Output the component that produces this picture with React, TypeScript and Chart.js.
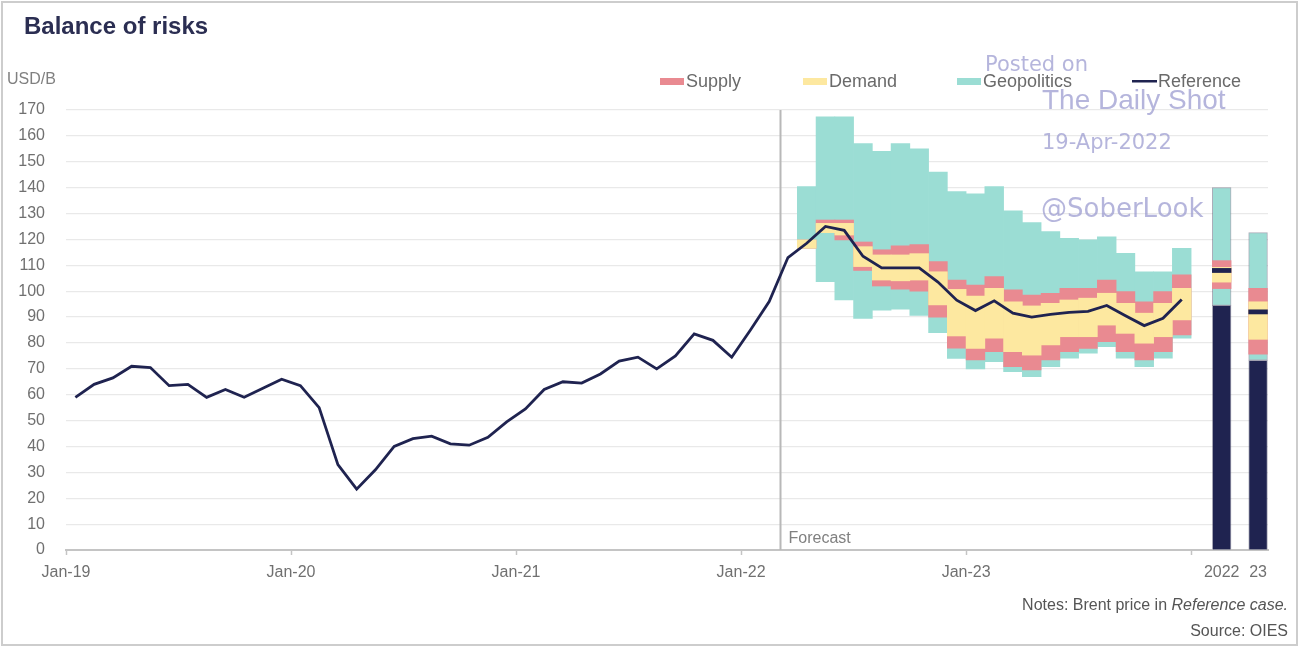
import React, { useEffect, useRef } from 'react';
import { Chart, registerables } from 'chart.js';

Chart.register(...registerables);

// ---------- DATA ----------
// Monthly Brent reference price, Jan-19 .. Dec-23 (USD/B)
const referencePrice: number[] = [
  59, 64, 66.5, 71, 70.5, 63.5, 64, 59, 62, 59, 62.5, 66,
  63.5, 55, 33, 23.5, 31, 40, 43, 44, 41, 40.5, 43.5, 49.5,
  54.5, 62, 65, 64.5, 68, 73, 74.5, 70, 75, 83.5, 81, 74.5,
  85, 96, 113, 118.5, 125, 123.5, 113.5, 109, 109, 109, 103.5, 96.5,
  92.5, 96.3, 91.5, 90, 91, 91.8, 92.2, 94.5, 90.5, 86.7, 89.5, 96.8,
];
// Forecast bands, Apr-22 .. Dec-23 (month index 39 .. 59)
const forecastStartIndex = 39;
const geoLow: number[] = [116.6, 103.7, 96.6, 89.5, 92.7, 93, 90.6, 84, 74, 70, 72.8, 68.9, 67, 70.8, 74.1, 76, 78.6, 74.1, 70.8, 74.1, 81.8];
const supplyLow: number[] = [116.6, 122.6, 119.8, 108, 102, 100.8, 100, 90, 78, 73.4, 76.6, 70.8, 69.6, 73.4, 76.6, 77.9, 80.5, 76.6, 73.4, 76.6, 83.1];
const demandLow: number[] = [116.6, 122.6, 121.7, 109.5, 104.3, 104, 104.3, 94.7, 82.7, 77.9, 81.8, 76.6, 75.3, 79.2, 82.4, 82.4, 86.9, 83.7, 79.9, 82.4, 88.9];
const demandHigh: number[] = [119.8, 126.2, 126.2, 117.2, 114, 114, 114.5, 107.5, 100.7, 98.1, 101.1, 95.9, 94.3, 95.3, 96.6, 97.3, 99.2, 95.3, 91.5, 95.3, 101.1];
const supplyHigh: number[] = [119.8, 127.5, 127.5, 119, 116, 117.5, 118, 111.4, 104.3, 102.4, 105.6, 100.5, 98.5, 99.2, 101.1, 101.1, 104.3, 99.8, 95.9, 99.8, 106.3];
const geoHigh: number[] = [140.4, 167.4, 167.4, 157, 154, 157, 155, 146, 138.5, 137.6, 140.4, 131, 126.5, 123, 120.4, 119.8, 121, 114.6, 107.5, 107.5, 116.6];

// Annual summary bars
const annualLabels: string[] = ['2022', '23'];
const annualPos: number[] = [61.63, 63.57];
const annualGeoLow: number[] = [94.5, 73.3];
const annualSupplyLow: number[] = [101, 75.7];
const annualDemandLow: number[] = [103.5, 81.4];
const annualRef: number[] = [108, 92];
const annualDemandHigh: number[] = [109.2, 95.9];
const annualSupplyHigh: number[] = [111.8, 101.1];
const annualGeoHigh: number[] = [140, 122.6];

// Axis ticks
const xTickValues: number[] = [0, 12, 24, 36, 48, 60];
const xTickLabels: string[] = ['Jan-19', 'Jan-20', 'Jan-21', 'Jan-22', 'Jan-23', ''];
const forecastMonth = 38.1;

// ---------- STYLE ----------
const FONT = "'Liberation Sans', Arial, Helvetica, sans-serif";
const PINK = '#E98A91';
const YELLOW = '#FDE8A0';
const TEAL = '#9BDDD4';
const NAVY = '#1F2350';
const TICK_COLOR = '#707070';

const monthBars = (lo: number[], hi: number[]) =>
  lo.map((v, i) => ({ x: forecastStartIndex + i + 0.5, y: [v, hi[i]] }));
const annualBars = (lo: number[], hi: number[]) =>
  annualPos.map((p, j) => ({ x: p, y: [lo[j], hi[j]] }));

const decorPlugin = {
  id: 'decor',
  beforeDraw(chart: any) {
    const { ctx, width, height } = chart;
    ctx.save();
    ctx.fillStyle = '#ffffff';
    ctx.fillRect(0, 0, width, height);
    ctx.restore();
  },
  beforeDatasetsDraw(chart: any) {
    const { ctx, chartArea, scales } = chart;
    const x = Math.round(scales.x.getPixelForValue(forecastMonth)) + 0.5;
    ctx.save();
    ctx.strokeStyle = '#b8b8b8';
    ctx.lineWidth = 2;
    ctx.beginPath();
    ctx.moveTo(x, chartArea.top);
    ctx.lineTo(x, chartArea.bottom);
    ctx.stroke();
    ctx.fillStyle = '#808080';
    ctx.font = `16px ${FONT}`;
    ctx.textBaseline = 'alphabetic';
    ctx.fillText('Forecast', x + 8, chartArea.bottom - 7);
    ctx.restore();
  },
  afterDraw(chart: any) {
    const { ctx } = chart;
    ctx.save();
    // frame
    ctx.strokeStyle = '#cdcdcd';
    ctx.lineWidth = 2;
    ctx.strokeRect(2, 2, 1295, 643);

    // title
    ctx.fillStyle = '#2B2E52';
    ctx.font = `bold 24px ${FONT}`;
    ctx.textBaseline = 'alphabetic';
    ctx.textAlign = 'left';
    ctx.fillText('Balance of risks', 24, 34);

    // unit
    ctx.fillStyle = '#808080';
    ctx.font = `16px ${FONT}`;
    ctx.fillText('USD/B', 7, 84);

    // legend
    const items = [
      { text: 'Supply', color: PINK, x: 660, line: false },
      { text: 'Demand', color: YELLOW, x: 803, line: false },
      { text: 'Geopolitics', color: TEAL, x: 957, line: false },
      { text: 'Reference', color: NAVY, x: 1132, line: true },
    ];
    ctx.font = `18px ${FONT}`;
    items.forEach((it) => {
      ctx.fillStyle = it.color;
      if (it.line) ctx.fillRect(it.x, 80, 25, 2.5);
      else ctx.fillRect(it.x, 78, 24, 7);
      ctx.fillStyle = '#6a6a6a';
      ctx.fillText(it.text, it.x + 26, 87);
    });

    // notes
    ctx.fillStyle = '#555555';
    ctx.textAlign = 'right';
    const rightX = 1288;
    const tail = 'Reference case.';
    ctx.font = `italic 16px ${FONT}`;
    const tailW = ctx.measureText(tail).width;
    ctx.fillText(tail, rightX, 610);
    ctx.font = `16px ${FONT}`;
    ctx.fillText('Notes: Brent price in ', rightX - tailW, 610);
    ctx.fillText('Source: OIES', rightX, 636);

    // watermark
    ctx.textAlign = 'left';
    ctx.fillStyle = 'rgba(150,150,205,0.7)';
    ctx.font = `21px 'DejaVu Sans', sans-serif`;
    ctx.fillText('Posted on', 985, 71);
    ctx.font = `28px ${FONT}`;
    ctx.fillText('The Daily Shot', 1042, 109);
    ctx.font = `21px 'DejaVu Sans', sans-serif`;
    ctx.fillText('19-Apr-2022', 1042, 149);
    ctx.font = `26px 'DejaVu Sans', sans-serif`;
    ctx.fillText('@SoberLook', 1041, 217);
    ctx.restore();
  },
};

export default function App() {
  const canvasRef = useRef<HTMLCanvasElement | null>(null);

  useEffect(() => {
    const canvas = canvasRef.current;
    if (!canvas) return;

    const allTickValues = [...xTickValues, ...annualPos];
    const allTickLabels = [...xTickLabels, ...annualLabels];

    const summaryBorder = (c: any) => (c.raw && c.raw.x > 60 ? 1 : 0);

    const chart = new Chart(canvas, {
      type: 'bar',
      data: {
        datasets: [
          {
            label: 'Supply',
            data: [...monthBars(supplyLow, supplyHigh), ...annualBars(annualSupplyLow, annualSupplyHigh)],
            backgroundColor: PINK,
            borderWidth: 0,
            grouped: false,
            barPercentage: 1,
            categoryPercentage: 1,
            order: 2,
          } as any,
          {
            label: 'Demand',
            data: [...monthBars(demandLow, demandHigh), ...annualBars(annualDemandLow, annualDemandHigh)],
            backgroundColor: YELLOW,
            borderWidth: 0,
            grouped: false,
            barPercentage: 1,
            categoryPercentage: 1,
            order: 1,
          } as any,
          {
            label: 'Geopolitics',
            data: [...monthBars(geoLow, geoHigh), ...annualBars(annualGeoLow, annualGeoHigh)],
            backgroundColor: TEAL,
            borderColor: 'rgba(70,70,100,0.45)',
            borderWidth: summaryBorder,
            borderSkipped: false,
            grouped: false,
            barPercentage: 1,
            categoryPercentage: 1,
            order: 3,
          } as any,
          {
            type: 'line',
            label: 'Reference',
            data: referencePrice.map((v, i) => ({ x: i + 0.5, y: v })),
            borderColor: NAVY,
            borderWidth: 2.8,
            pointRadius: 0,
            tension: 0,
            fill: false,
            order: 0,
          } as any,
          {
            label: 'Base',
            data: annualPos.map((p, j) => ({ x: p, y: [0, annualGeoLow[j]] })),
            backgroundColor: NAVY,
            borderColor: 'rgba(70,70,100,0.45)',
            borderWidth: 1,
            borderSkipped: 'start',
            grouped: false,
            barPercentage: 1,
            categoryPercentage: 1,
            order: 4,
          } as any,
          {
            label: 'RefMark',
            data: annualPos.map((p, j) => ({ x: p, y: [annualRef[j] - 0.8, annualRef[j] + 0.8] })),
            backgroundColor: NAVY,
            borderWidth: 0,
            grouped: false,
            barPercentage: 1,
            categoryPercentage: 1,
            order: 0.5,
          } as any,
        ],
      },
      options: {
        animation: false,
        responsive: false,
        maintainAspectRatio: false,
        layout: { padding: { left: 0, right: 33, top: 110, bottom: 0 } },
        plugins: {
          legend: { display: false },
          title: { display: false },
          tooltip: { enabled: false },
        },
        scales: {
          x: {
            type: 'linear',
            min: 0,
            max: 64.1,
            offset: false,
            afterBuildTicks: (s: any) => {
              s.ticks = allTickValues.map((v) => ({ value: v }));
            },
            afterFit: (s: any) => {
              s.height = 100;
            },
            grid: {
              offset: false,
              drawOnChartArea: false,
              drawTicks: true,
              tickLength: 5,
              tickWidth: 1.5,
              tickColor: (c: any) => (c.tick && c.tick.value > 60.5 ? 'rgba(0,0,0,0)' : '#c4c4c4'),
            },
            border: { display: true, color: '#c4c4c4', width: 2 },
            ticks: {
              autoSkip: false,
              maxRotation: 0,
              minRotation: 0,
              padding: 8,
              color: TICK_COLOR,
              font: { family: FONT, size: 16 },
              callback: (_v: any, i: number) => allTickLabels[i],
            },
          },
          y: {
            min: 0,
            max: 170,
            afterFit: (s: any) => {
              s.width = 66;
            },
            ticks: {
              stepSize: 10,
              padding: 21,
              color: TICK_COLOR,
              font: { family: FONT, size: 16 },
            },
            grid: { color: '#e9e9e9', lineWidth: 1.2, drawTicks: false },
            border: { display: false },
          },
        },
      } as any,
      plugins: [decorPlugin],
    });

    return () => {
      chart.destroy();
    };
  }, []);

  return (
    <div style={{ position: 'absolute', left: 0, top: 0, width: 1301, height: 650, background: '#fff' }}>
      <canvas ref={canvasRef} width={1301} height={650} style={{ display: 'block' }} />
    </div>
  );
}
